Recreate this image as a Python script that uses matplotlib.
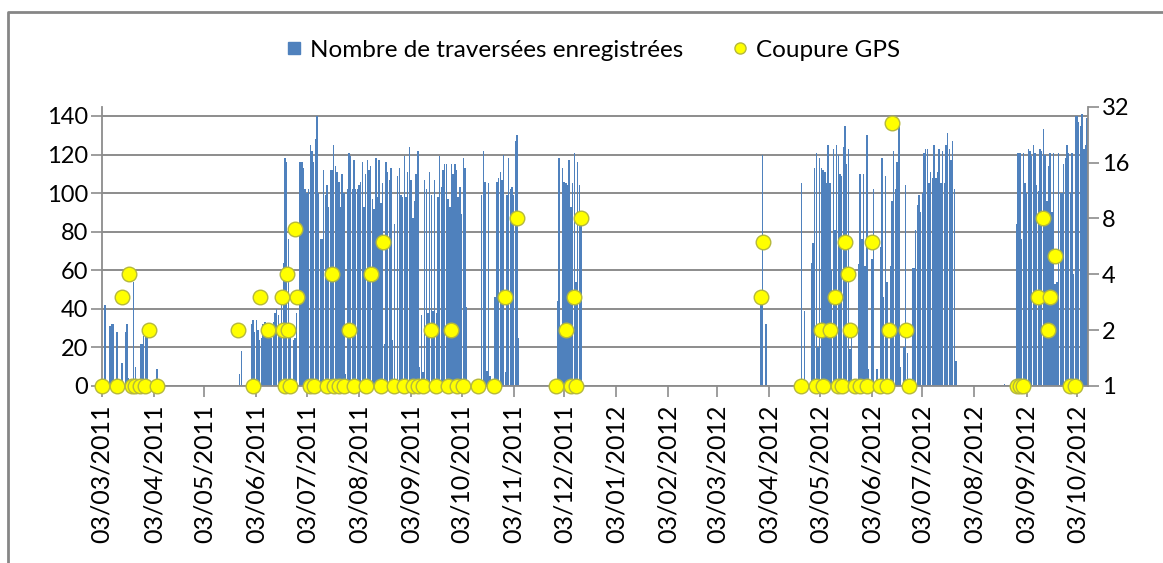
import numpy as np
import pandas as pd
import matplotlib
matplotlib.use("Agg")
import matplotlib.pyplot as plt
import matplotlib.dates as mdates
from matplotlib.lines import Line2D
from matplotlib.ticker import FixedLocator, FixedFormatter, NullLocator

plt.rcParams["font.family"] = ["Lato", "DejaVu Sans"]

# Excel-like colours
blue = "#4f81bd"
yellow = "#ffff00"
yellow_edge = "#b5b83c"
grey = "#8c8c8c"

# Daily recorded crossings, by active period (start date + one value per day)
mar2011_start = "2011-03-03"
mar2011_counts = [16, 0, 42, 0, 0, 31, 32, 32, 0, 28, 0, 0, 12, 0, 28, 32, 4, 0, 0,
                  54, 10, 0, 0, 22, 22, 26, 30, 32, 0, 0, 0, 0, 0, 9]

summer2011_start = "2011-05-24"
summer2011_counts = [6, 18, 0, 0, 0, 0, 0,
                     32, 34, 28, 34, 29, 24, 25, 32, 33, 32, 26, 30, 25, 33, 38, 40,
                     37, 31, 47, 64, 118, 116, 76, 32,
                     0, 24, 25, 38, 0,
                     116, 116, 113, 102, 100, 102, 125, 122, 116, 128, 140, 100, 76,
                     76, 112, 99, 104, 93, 112, 112, 125, 114, 111, 106, 93, 110, 100,
                     6, 102, 121, 119, 102, 117, 102, 102, 104, 106, 116, 93, 110, 117,
                     112, 114, 97, 92,
                     118, 98, 117, 95, 105, 22, 116, 111, 107, 113, 24, 84, 0, 109,
                     113, 99, 98, 119, 98, 111, 124, 107, 87, 96, 110, 122, 10, 37, 7,
                     107, 102, 38, 111, 99, 39, 107, 38, 98, 119, 103, 112, 115, 115,
                     97, 93, 115, 110, 115, 112, 98, 103, 89, 118, 113, 41]

oct2011_start = "2011-10-15"
oct2011_counts = [99, 122, 106, 8, 105, 5, 0, 0, 46, 106, 108, 111, 107, 120, 7, 99,
                  118, 102, 103, 99, 127, 130, 25]

dec2011_start = "2011-11-29"
dec2011_counts = [44, 118, 30, 113, 106, 105, 104, 117, 93, 105, 121, 54, 116, 104, 89]

mar2012_start = "2012-03-29"
mar2012_counts = [44, 120, 0, 32]

spring2012_start = "2012-04-22"
spring2012_counts = [105, 0, 39, 0, 0, 0, 64, 74, 113, 121, 20, 118, 113, 112, 111,
                     105, 125, 105, 60, 123, 81, 125, 120, 110, 109, 124, 135, 115,
                     123, 19, 25, 0, 0, 0, 63, 110, 76, 110, 62, 130, 9, 0, 66, 102,
                     0, 9, 0, 72, 118, 46, 109, 54, 0, 62, 96, 122, 102, 116, 135, 10,
                     0, 20, 104, 17, 0, 0, 61, 61, 81, 94, 99, 90, 100, 121, 123, 123,
                     105, 111, 108, 125, 108, 111, 123, 105, 122, 105, 125, 131, 123,
                     117, 127, 102, 13]

autumn2012_start = "2012-08-21"
autumn2012_counts = [1, 0, 0, 0, 0, 0, 0,
                     84, 121, 121, 76, 121, 105, 100, 123, 122, 119, 125, 121, 104,
                     101, 123, 122, 133, 120, 96, 114, 121, 90, 121, 53, 54, 121, 100,
                     100, 115, 118, 125, 121, 100, 121, 58, 140, 140, 137, 135, 141,
                     123, 125, 139]

# GPS outages (right axis, log2)
gps_dates = ["2011-03-03", "2011-03-12", "2011-03-15", "2011-03-19", "2011-03-21",
             "2011-03-23", "2011-03-26", "2011-03-29", "2011-03-31", "2011-04-05",
             "2011-05-23", "2011-06-01", "2011-06-05", "2011-06-10", "2011-06-18",
             "2011-06-19", "2011-06-20", "2011-06-21", "2011-06-22", "2011-06-23",
             "2011-06-26", "2011-06-27", "2011-07-05", "2011-07-07", "2011-07-15",
             "2011-07-18", "2011-07-19", "2011-07-22", "2011-07-25", "2011-07-28",
             "2011-07-31", "2011-08-07", "2011-08-10", "2011-08-16", "2011-08-17",
             "2011-08-24", "2011-08-30", "2011-09-04", "2011-09-07", "2011-09-10",
             "2011-09-15", "2011-09-18", "2011-09-25", "2011-09-27", "2011-09-30",
             "2011-10-04", "2011-10-13", "2011-10-22", "2011-10-29", "2011-11-05",
             "2011-11-28", "2011-12-04", "2011-12-07", "2011-12-09", "2011-12-10",
             "2011-12-13", "2012-03-29", "2012-03-30", "2012-04-22", "2012-05-01",
             "2012-05-04", "2012-05-05", "2012-05-09", "2012-05-12", "2012-05-14",
             "2012-05-16", "2012-05-18", "2012-05-20", "2012-05-21", "2012-05-24",
             "2012-05-27", "2012-05-31", "2012-06-03", "2012-06-08", "2012-06-12",
             "2012-06-13", "2012-06-15", "2012-06-23", "2012-06-25", "2012-08-28",
             "2012-08-30", "2012-09-01", "2012-09-10", "2012-09-13", "2012-09-16",
             "2012-09-17", "2012-09-20", "2012-09-29", "2012-10-02"]
gps_values = [1, 1, 3, 4, 1, 1, 1, 1, 2, 1,
              2, 1, 3, 2, 3, 2, 1, 4, 2, 1,
              7, 3, 1, 1, 1, 4, 1, 1, 1, 2,
              1, 1, 4, 1, 6, 1, 1, 1, 1, 1,
              2, 1, 1, 2, 1, 1, 1, 1, 3, 8,
              1, 2, 1, 3, 1, 8, 3, 6, 1, 1,
              2, 1, 2, 3, 1, 1, 6, 4, 2, 1,
              1, 1, 6, 1, 1, 2, 26, 2, 1, 1,
              1, 1, 3, 8, 2, 3, 5, 1, 1]

left_ticks = [0, 20, 40, 60, 80, 100, 120, 140]
right_ticks = [1, 2, 4, 8, 16, 32]

segments = [(mar2011_start, mar2011_counts), (summer2011_start, summer2011_counts),
            (oct2011_start, oct2011_counts), (dec2011_start, dec2011_counts),
            (mar2012_start, mar2012_counts), (spring2012_start, spring2012_counts),
            (autumn2012_start, autumn2012_counts)]

counts = pd.Series(0.0, index=pd.date_range("2011-03-03", "2012-10-10"))
for start, vals in segments:
    counts.loc[pd.date_range(start, periods=len(vals))] = vals

W, H = 1163, 563
fig = plt.figure(figsize=(W / 100, H / 100), dpi=100)
ax = fig.add_axes([101.7 / W, (H - 386) / H, (1088 - 101.7) / W, (386 - 106.7) / H])

ax.bar(counts.index, counts.values, width=0.85, color=blue, linewidth=0, zorder=2)
ax.set_ylim(0, 144.8)
ax.yaxis.set_major_locator(FixedLocator(left_ticks))
ax.grid(axis="y", color=grey, lw=1.4)
ax.set_axisbelow(True)

x0 = mdates.date2num(pd.Timestamp("2011-03-03"))
ax.set_xlim(x0, x0 + 586.5)
ax.xaxis.set_major_locator(mdates.MonthLocator(bymonthday=3))
ax.xaxis.set_major_formatter(mdates.DateFormatter("%d/%m/%Y"))
ax.tick_params(axis="x", rotation=90, length=8, width=1.2, color=grey, pad=5, labelsize=18)
ax.tick_params(axis="y", length=8, width=1.2, color=grey, pad=2, labelsize=17)

ax.spines["top"].set_visible(False)
ax.spines["right"].set_visible(False)
for s in ["left", "bottom"]:
    ax.spines[s].set_color(grey)
    ax.spines[s].set_linewidth(1.3)

ax2 = ax.twinx()
ax2.set_yscale("log", base=2)
ax2.set_ylim(1, 32)
ax2.yaxis.set_major_locator(FixedLocator(right_ticks))
ax2.yaxis.set_major_formatter(FixedFormatter([str(t) for t in right_ticks]))
ax2.yaxis.set_minor_locator(NullLocator())
ax2.plot(pd.to_datetime(gps_dates), gps_values, "o", ms=10.5, mfc=yellow,
         mec=yellow_edge, mew=1, zorder=3, clip_on=False)
ax2.tick_params(axis="y", length=8, width=1.2, color=grey, pad=2, labelsize=17)
for s in ["top", "left", "bottom"]:
    ax2.spines[s].set_visible(False)
ax2.spines["right"].set_color(grey)
ax2.spines["right"].set_linewidth(1.3)

handles = [Line2D([], [], ls="none", marker="s", ms=8, mfc=blue, mec=blue),
           Line2D([], [], ls="none", marker="o", ms=8, mfc=yellow, mec=yellow_edge)]
fig.legend(handles, ["Nombre de traversées enregistrées", "Coupure GPS"],
           loc="center", bbox_to_anchor=(593 / W, 1 - 50 / H), ncol=2, frameon=False,
           fontsize=17.5, handlelength=0.7, handletextpad=0.3, columnspacing=2.0)

# chart border (top and left edges visible in the crop)
fig.add_artist(Line2D([8 / W, 8 / W, 1], [0, 1 - 12 / H, 1 - 12 / H],
                      transform=fig.transFigure, color="#868686", lw=2))

fig.savefig("out.png", dpi=100)
